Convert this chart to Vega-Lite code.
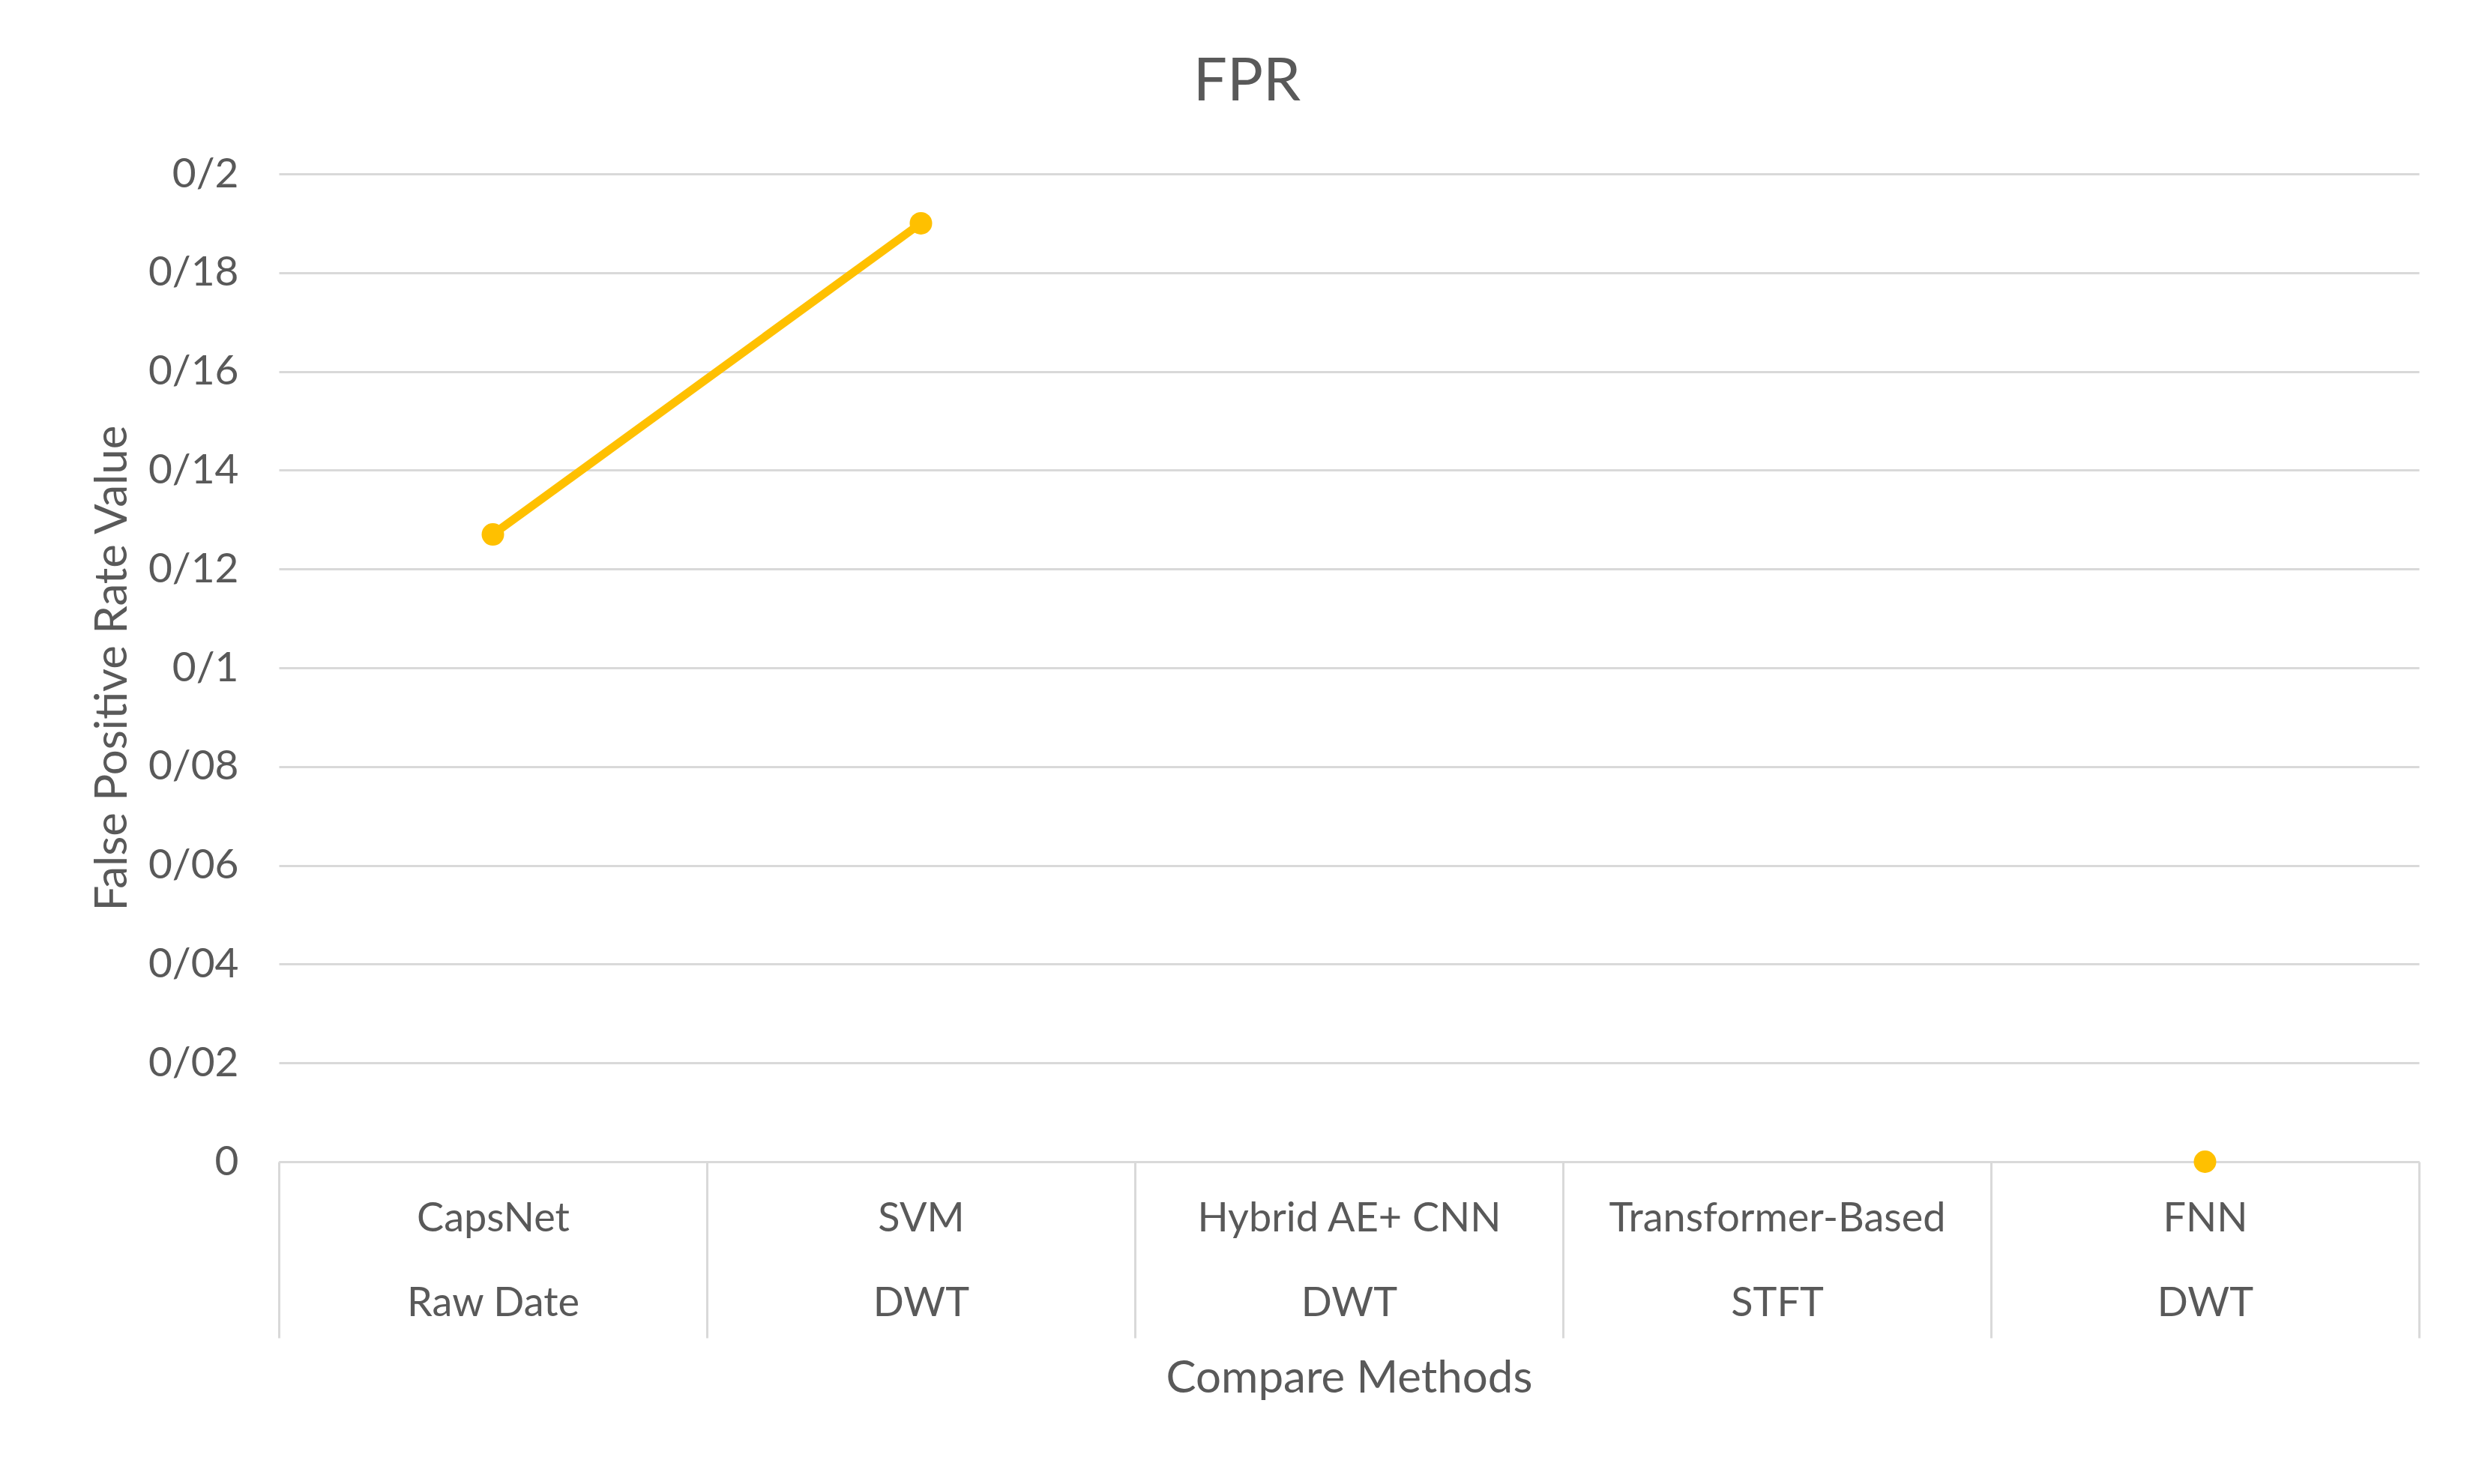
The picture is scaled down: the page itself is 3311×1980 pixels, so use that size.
{
  "$schema": "https://vega.github.io/schema/vega-lite/v6.json",
  "autosize": {"type": "none"},
  "width": 2855,
  "height": 1318,
  "padding": {"left": 372, "top": 232, "right": 84, "bottom": 430},
  "background": "white",
  "config": {"view": {"stroke": null}},
  "title": {
    "text": "FPR",
    "font": "Lato",
    "fontSize": 80,
    "fontWeight": "normal",
    "color": "#595959",
    "anchor": "middle",
    "baseline": "alphabetic",
    "offset": -9,
    "dx": -136
  },
  "data": {
    "values": [
      {"method": "CapsNet", "feature": "Raw Date", "fpr": 0.127},
      {"method": "SVM", "feature": "DWT", "fpr": 0.19},
      {"method": "Hybrid AE+ CNN", "feature": "DWT", "fpr": null},
      {"method": "Transformer-Based", "feature": "STFT", "fpr": null},
      {"method": "FNN", "feature": "DWT", "fpr": 0}
    ]
  },
  "mark": {
    "type": "line",
    "color": "#FFC000",
    "strokeWidth": 11,
    "invalid": "break-paths-show-domains",
    "point": {"filled": true, "size": 900, "color": "#FFC000", "opacity": 1}
  },
  "encoding": {
    "x": {
      "field": "method",
      "type": "nominal",
      "sort": null,
      "bandPosition": 0.5,
      "scale": {
        "type": "band",
        "domain": ["CapsNet", "SVM", "Hybrid AE+ CNN", "Transformer-Based", "FNN"],
        "paddingInner": 0,
        "paddingOuter": 0
      },
      "axis": {
        "title": "Compare Methods",
        "labelExpr": "indexof(['CapsNet','SVM','Hybrid AE+ CNN','Transformer-Based','FNN'], datum.value) < 0 ? '' : [datum.value, datum.value == 'CapsNet' ? 'Raw Date' : (datum.value == 'Transformer-Based' ? 'STFT' : 'DWT')]",
        "labelAngle": 0,
        "labelLimit": 1000,
        "labelFont": "Lato",
        "labelFontSize": 54,
        "labelColor": "#595959",
        "labelLineHeight": 113,
        "labelBaseline": "alphabetic",
        "labelPadding": -143,
        "tickBand": "extent",
        "tickSize": 235,
        "tickColor": "#D9D9D9",
        "tickWidth": 3,
        "domainColor": "#D9D9D9",
        "domainWidth": 3,
        "grid": false,
        "titleFont": "Lato",
        "titleFontSize": 60,
        "titleFontWeight": "normal",
        "titleColor": "#595959",
        "titleBaseline": "alphabetic",
        "titleY": 307
      }
    },
    "y": {
      "field": "fpr",
      "type": "quantitative",
      "scale": {"domain": [0, 0.2], "nice": false, "zero": true},
      "axis": {
        "title": "False Positive Rate Value",
        "values": [0, 0.02, 0.04, 0.06, 0.08, 0.1, 0.12, 0.14, 0.16, 0.18, 0.2],
        "labelExpr": "replace(format(datum.value, '.2~f'), '.', '/')",
        "domain": false,
        "ticks": false,
        "grid": true,
        "gridColor": "#D9D9D9",
        "gridWidth": 3,
        "labelFont": "Lato",
        "labelFontSize": 55,
        "labelColor": "#595959",
        "labelPadding": 54,
        "titleFont": "Lato",
        "titleFontSize": 60,
        "titleFontWeight": "normal",
        "titleColor": "#595959",
        "titleX": -204,
        "titleY": 659,
        "titleBaseline": "alphabetic",
        "titleAngle": 270,
        "titleAlign": "center"
      }
    }
  }
}
